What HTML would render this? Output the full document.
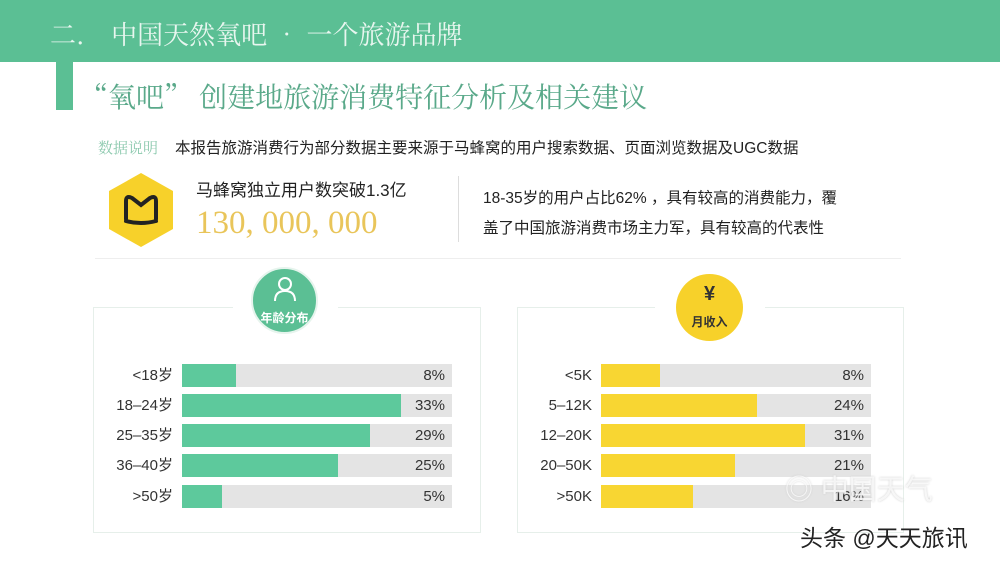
<!DOCTYPE html>
<html><head><meta charset="utf-8"><style>
*{margin:0;padding:0;box-sizing:border-box}
body{width:1000px;height:562px;background:#fff;position:relative;overflow:hidden;font-family:"Liberation Sans","Noto Sans CJK SC",sans-serif}
.a{position:absolute;white-space:nowrap}
.hdr{left:0;top:0;width:1000px;height:62px;background:#5bbf94}
.box{border:1px solid #e6efea;background:#fff}
.track{background:#e4e4e4;height:23px;width:270px}
.lab{font-size:15px;color:#333;text-align:right;width:80px;line-height:23px}
.pct{font-size:15px;color:#333;text-align:right;width:60px;line-height:23px}
.circ{border-radius:50%;text-align:center}
</style></head><body>
<div class="a hdr"></div>
<div class="a" style="left:50px;top:15px;font-size:26px;color:#e8f6ef;font-family:'Noto Serif CJK SC',serif">二.&nbsp;&nbsp;&nbsp;&nbsp;中国天然氧吧 • 一个旅游品牌</div>
<div class="a" style="left:56px;top:62px;width:17px;height:48px;background:#5bbf94"></div>
<div class="a" style="left:80px;top:76px;font-size:28px;color:#5aa98a;font-family:'Noto Serif CJK SC',serif">“氧吧” 创建地旅游消费特征分析及相关建议</div>
<div class="a" style="left:98px;top:137px;font-size:15px;color:#8cc9ae;font-family:'Noto Serif CJK SC',serif">数据说明</div>
<div class="a" style="left:175px;top:136px;font-size:15.5px;color:#222">本报告旅游消费行为部分数据主要来源于马蜂窝的用户搜索数据、页面浏览数据及UGC数据</div>
<svg class="a" style="left:106px;top:171px" width="70" height="78" viewBox="0 0 70 78"><polygon points="35,2 67,20 67,58 35,76 3,58 3,20" fill="#f7d12a"/><path d="M20 48 V30 Q20 24 26 27 L35 34 L44 27 Q50 24 50 30 V48 M20 50 Q35 54 50 50" fill="none" stroke="#222" stroke-width="4" stroke-linecap="round"/></svg>
<div class="a" style="left:196px;top:176px;font-size:17px;color:#222">马蜂窝独立用户数突破1.3亿</div>
<div class="a" style="left:196px;top:205px;font-size:33px;color:#e9c55a;font-family:'Liberation Serif',serif">130, 000, 000</div>
<div class="a" style="left:458px;top:176px;width:1px;height:66px;background:#ddd"></div>
<div class="a" style="left:483px;top:184px;font-size:15.5px;color:#222;line-height:30px">18-35岁的用户占比62% ，具有较高的消费能力，覆<br>盖了中国旅游消费市场主力军，具有较高的代表性</div>
<div class="a" style="left:95px;top:258px;width:806px;height:1px;background:#eee"></div>

<div class="a box" style="left:93px;top:307px;width:388px;height:226px"></div>
<div class="a" style="left:233px;top:300px;width:105px;height:10px;background:#fff"></div>
<div class="a circ" style="left:251px;top:267px;width:67px;height:67px;background:#5bbf94;border:2px solid #e6f4ed"></div>
<svg class="a" style="left:272px;top:276px" width="26" height="26"><circle cx="13" cy="8" r="6" fill="none" stroke="#fff" stroke-width="2"/><path d="M3 25 Q3 15 13 15 Q23 15 23 25" fill="none" stroke="#fff" stroke-width="2"/></svg>
<div class="a" style="left:251px;top:309px;width:67px;text-align:center;font-size:12px;color:#fff;font-weight:bold">年龄分布</div>

<div class="a box" style="left:517px;top:307px;width:387px;height:226px"></div>
<div class="a" style="left:655px;top:300px;width:110px;height:10px;background:#fff"></div>
<div class="a circ" style="left:676px;top:274px;width:67px;height:67px;background:#f7d12a"></div>
<div class="a" style="left:676px;top:283px;width:67px;text-align:center;font-size:20px;color:#333;font-weight:bold">¥</div>
<div class="a" style="left:676px;top:313px;width:67px;text-align:center;font-size:12px;color:#333;font-weight:bold">月收入</div>

<div class="a lab" style="left:93px;top:364px">&lt;18岁</div><div class="a track" style="left:182px;top:364px"><div style="width:54px;height:23px;background:#5dc99c"></div></div><div class="a pct" style="left:385px;top:364px">8%</div>
<div class="a lab" style="left:93px;top:394px">18–24岁</div><div class="a track" style="left:182px;top:394px"><div style="width:219px;height:23px;background:#5dc99c"></div></div><div class="a pct" style="left:385px;top:394px">33%</div>
<div class="a lab" style="left:93px;top:424px">25–35岁</div><div class="a track" style="left:182px;top:424px"><div style="width:188px;height:23px;background:#5dc99c"></div></div><div class="a pct" style="left:385px;top:424px">29%</div>
<div class="a lab" style="left:93px;top:454px">36–40岁</div><div class="a track" style="left:182px;top:454px"><div style="width:156px;height:23px;background:#5dc99c"></div></div><div class="a pct" style="left:385px;top:454px">25%</div>
<div class="a lab" style="left:93px;top:485px">&gt;50岁</div><div class="a track" style="left:182px;top:485px"><div style="width:40px;height:23px;background:#5dc99c"></div></div><div class="a pct" style="left:385px;top:485px">5%</div>

<div class="a lab" style="left:512px;top:364px">&lt;5K</div><div class="a track" style="left:601px;top:364px"><div style="width:59px;height:23px;background:#f8d632"></div></div><div class="a pct" style="left:804px;top:364px">8%</div>
<div class="a lab" style="left:512px;top:394px">5–12K</div><div class="a track" style="left:601px;top:394px"><div style="width:156px;height:23px;background:#f8d632"></div></div><div class="a pct" style="left:804px;top:394px">24%</div>
<div class="a lab" style="left:512px;top:424px">12–20K</div><div class="a track" style="left:601px;top:424px"><div style="width:204px;height:23px;background:#f8d632"></div></div><div class="a pct" style="left:804px;top:424px">31%</div>
<div class="a lab" style="left:512px;top:454px">20–50K</div><div class="a track" style="left:601px;top:454px"><div style="width:134px;height:23px;background:#f8d632"></div></div><div class="a pct" style="left:804px;top:454px">21%</div>
<div class="a lab" style="left:512px;top:485px">&gt;50K</div><div class="a track" style="left:601px;top:485px"><div style="width:92px;height:23px;background:#f8d632"></div></div><div class="a pct" style="left:804px;top:485px">16%</div>

<div class="a" style="left:785px;top:468px;font-size:28px;color:rgba(255,255,255,0.75);text-shadow:0 0 2px #ccc">◎ 中国天气</div>
<div class="a" style="left:800px;top:519px;font-size:23px;color:#222">头条 @天天旅讯</div>
</body></html>
